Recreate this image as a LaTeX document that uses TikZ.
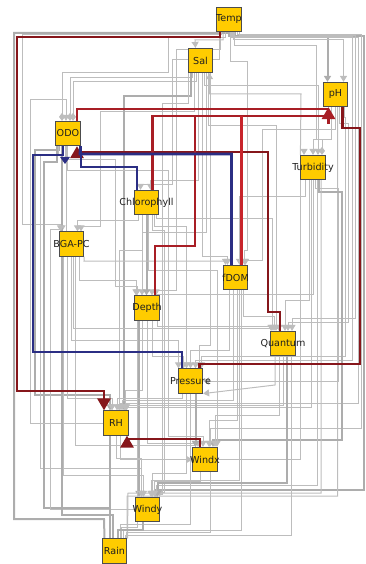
\documentclass[tikz,border=0pt]{standalone}
\usepackage{fontspec}
\setmainfont{DejaVu Sans}
\usetikzlibrary{arrows.meta}
\pgfdeclarelayer{edges}
\pgfsetlayers{edges,main}
\definecolor{nodey}{HTML}{FFCC00}
\definecolor{gl}{HTML}{BDBDBD}
\definecolor{gmid}{HTML}{ADADAD}
\definecolor{dred}{HTML}{86161B}
\definecolor{mred}{HTML}{A81E25}
\definecolor{bred}{HTML}{C8252C}
\definecolor{navy}{HTML}{2B2E84}
\begin{document}
\begin{tikzpicture}[x=1pt,y=-1pt,
  box/.style={draw=black!70, fill=nodey, line width=0.7pt, minimum width=24.5pt, minimum height=24.5pt, inner sep=0pt},
  lbl/.style={font=\fontsize{9.6}{11}\selectfont, text=black!88, inner sep=0pt},
  g/.style={draw=gl, line width=1pt},
  gm/.style={draw=gmid, line width=2pt},
  ta/.style={-{Triangle[width=7pt,length=6pt]}},
  da/.style={-{Diamond[width=6pt,length=8pt]}},
  ce/.style={line width=2.8pt},
  bigtip/.style={-{Triangle[width=13pt,length=12pt]}}
]
\useasboundingbox (0,0) rectangle (366,564);

% nodes
\node[box] (Temp) at (229,19.5) {};
\node[box] (Sal) at (200.5,60.5) {};
\node[box] (pH) at (335.5,94.5) {};
\node[box] (ODO) at (68,133.5) {};
\node[box] (Turbidity) at (313,167.5) {};
\node[box] (Chlorophyll) at (146.5,202.5) {};
\node[box] (BGA) at (71.5,244) {};
\node[box] (fDOM) at (235.5,277.5) {};
\node[box] (Depth) at (147,308) {};
\node[box] (Quantum) at (283,343.5) {};
\node[box] (Pressure) at (190.5,381) {};
\node[box] (RH) at (116,423) {};
\node[box] (Windx) at (205,459.5) {};
\node[box] (Windy) at (147.5,509.5) {};
\node[box] (Rain) at (114.5,551) {};
\node[lbl] (l1) at (Temp) {Temp};
\node[lbl] (l2) at (Sal) {Sal};
\node[lbl] (l3) at (pH) {pH};
\node[lbl] (l4) at (ODO) {ODO};
\node[lbl] (l5) at (Turbidity) {Turbidity};
\node[lbl] (l6) at (Chlorophyll) {Chlorophyll};
\node[lbl] (l7) at (BGA) {BGA-PC};
\node[lbl] (l8) at (fDOM) {fDOM};
\node[lbl] (l9) at (Depth) {Depth};
\node[lbl] (l10) at (Quantum) {Quantum};
\node[lbl] (l11) at (Pressure) {Pressure};
\node[lbl] (l12) at (RH) {RH};
\node[lbl] (l13) at (Windx) {Windx};
\node[lbl] (l14) at (Windy) {Windy};
\node[lbl] (l15) at (Rain) {Rain};
\coordinate (phin) at (328.5,124);

\begin{pgfonlayer}{edges}
% ---- Temp
\draw[g,ta] ([xshift=-6]Temp.south) -- (223,40) -- (195,40) -- ([xshift=-5]Sal.north);
\draw[gm] ([xshift=-2]Temp.south) -- (227,33) -- (14,33) -- (14,519) -- (104,519) -- ([xshift=-10]Rain.north);
\draw[gm,ta] (Temp.south) -- (229,36) -- (327.5,36) -- ([xshift=-8]pH.north);
\draw[g,ta] ([xshift=4]Temp.south) -- (233,40) -- (343.5,40) -- ([xshift=8]pH.north);
\draw[gm,ta] ([xshift=6]Temp.south) -- (235,36) -- (364,36) -- (364,490) -- (155.5,490) -- ([xshift=8]Windy.north);
\draw[g,ta] ([xshift=8]Temp.south) -- (237,35) -- (361,35) -- (361,428) -- (210,428) -- ([xshift=5]Windx.north);
\draw[g,da] ([xshift=-4]Temp.south) -- (225,38) -- (168,38) -- (168,73) -- (62,73) -- ([xshift=-6]ODO.north);
\draw[g,ta] ([xshift=-8]Temp.south) -- (221,35) -- (22,35) -- (22,224) -- (62,224) -- ([xshift=-9.5]BGA.north);
\draw[g,ta] ([xshift=2]Temp.south) -- (231,38) -- (358,38) -- (358,403) -- (120,403) -- ([xshift=4]RH.north);
\draw[g,ta] ([xshift=10]Temp.south) -- (239,36) -- (355,36) -- (355,318) -- (292,318) -- ([xshift=9]Quantum.north);
\draw[g,da] ([xshift=5]Temp.south) -- (234,46) -- (316,46) -- (316,140) -- (322,140) -- ([xshift=9]Turbidity.north);
\draw[g,ta] ([xshift=3]Temp.south) -- (232,37) -- (352,37) -- (352,360) -- (195.5,360) -- ([xshift=5]Pressure.north);
\draw[g,ta] ([xshift=-10]Temp.south) -- (219,60) -- (172,60) -- (172,184) -- (140.5,184) -- ([xshift=-6]Chlorophyll.north);
\draw[g,ta] ([xshift=1]Temp.south) -- (230,62) -- (247,62) -- (247,250) -- (244.5,250) -- ([xshift=9]fDOM.north);
\draw[g,ta] ([xshift=-9]Temp.south) -- (220,50) -- (176,50) -- (176,290) -- (152,290) -- ([xshift=5]Depth.north);
% ---- Sal
\draw[g,da] ([xshift=-8]Sal.south) -- (192.5,78) -- (70,78) -- ([xshift=2]ODO.north);
\draw[g,da] ([xshift=-4]Sal.south) -- (196.5,82) -- (73,82) -- ([xshift=5]ODO.north);
\draw[g,ta] ([xshift=4]Sal.south) -- (204.5,86) -- (318,86) -- ([xshift=5]Turbidity.north);
\draw[g,ta] ([xshift=-2]Sal.south) -- (198.5,180) -- (150.5,180) -- ([xshift=4]Chlorophyll.north);
\draw[g,ta] ([xshift=2]Sal.south) -- (202.5,256) -- (227.5,256) -- ([xshift=-8]fDOM.north);
\draw[g,ta] ([xshift=6]Sal.south) -- (206.5,232) -- (142,232) -- ([xshift=-5]Depth.north);
\draw[g,ta] ([xshift=-6]Sal.south) -- (194.5,112) -- (100,112) -- (100,226) -- (81,226) -- ([xshift=9.5]BGA.north);
\draw[g,ta] ([xshift=8]Sal.south) -- (208.5,126) -- (276,126) -- ([xshift=-7]Quantum.north);
\draw[g,ta] ([xshift=10]Sal.south) -- (210.5,345) -- (199.5,345) -- ([xshift=9]Pressure.north);
\draw[gm,ta] ([xshift=-10]Sal.south) -- (190.5,96) -- (124,96) -- ([xshift=8]RH.north);
\draw[g,ta] ([xshift=-12]Sal.south) -- (188.5,104) -- (162,104) -- (162,494) -- (159.5,494) -- ([xshift=12]Windy.north);
\draw[g,ta] (Turbidity.north west) -- (301,94) -- (209.5,94) -- ([xshift=9]Sal.south);
% ---- ODO
\draw[gm] ([xshift=-6]ODO.south) -- ([xshift=-9.5]BGA.north);
\draw[g] ([xshift=-2]ODO.south) -- ([xshift=-5.5]BGA.north);
\draw[g,ta] ([xshift=-3]ODO.south) -- (65,160) -- (115,160) -- (115,286) -- (137,286) -- ([xshift=-10]Depth.north);
\draw[gm,ta] ([xshift=-9]ODO.south) -- (59,150) -- (35,150) -- (35,395) -- (110,395) -- ([xshift=-6]RH.north);
\draw[g,ta] ([xshift=-10]ODO.south) -- (58,156) -- (40,156) -- (40,468) -- (141.5,468) -- ([xshift=-6]Windy.north);
\draw[gm] ([xshift=-11]ODO.south) -- (57,162) -- (44,162) -- (44,508) -- (109.5,508) -- ([xshift=-5]Rain.north);
\draw[g,ta] (RH.west) -- (30,423) -- (30,100) -- (66,100) -- ([xshift=-2]ODO.north);
\draw[g,ta] ([xshift=-1]ODO.south) -- (67,170) -- (168,170) -- (168,436) -- (203,436) -- ([xshift=-2]Windx.north);
\draw[g,ta] (Windy.west) -- (50,509.5) -- (50,229) -- (60.5,229) -- ([xshift=-11]BGA.north);
% ---- pH
\draw[g,ta] ([xshift=4]pH.south) -- (339.5,124) -- (348,124) -- (348,322) -- (288,322) -- ([xshift=5]Quantum.north);
\draw[g,ta] ([xshift=9]pH.south) -- (344.5,118) -- (345,118) -- (345,356) -- (201.5,356) -- ([xshift=11]Pressure.north);
\draw[g,ta] ([xshift=-4]pH.south) -- (331.5,140) -- (313,140) -- (Turbidity.north);
\draw[g,ta] (pH.south) -- (335.5,130) -- (262,130) -- (262,260) -- (245.5,260) -- ([xshift=10]fDOM.north);
\draw[g] ([xshift=2]pH.south) -- (337.5,496) -- (127,496) -- (Rain.north east);
% ---- Turbidity
\draw[g,ta] ([xshift=-4]Turbidity.south) -- (309,300) -- (285,300) -- ([xshift=2]Quantum.north);
\draw[g,ta] ([xshift=-8]Turbidity.south) -- (305,196) -- (239.5,196) -- ([xshift=4]fDOM.north);
\draw[g,ta] ([xshift=2]Turbidity.south) -- (315,188) -- (338,188) -- (338,381) -- (Pressure.east);
\draw[gm,ta] ([xshift=6]Turbidity.south) -- (319,192) -- (342,192) -- (342,440) -- (213,440) -- ([xshift=8]Windx.north);
\draw[g,ta] (Turbidity.south) -- (313,294) -- (156,294) -- ([xshift=9]Depth.north);
\draw[g,ta] ([xshift=-2]Turbidity.south) -- (311,407) -- (126,407) -- ([xshift=10]RH.north);
\draw[g,ta] ([xshift=4]Turbidity.south) -- (317,485) -- (156.5,485) -- ([xshift=9]Windy.north);
\draw[g] ([xshift=8]Turbidity.south) -- (321,493) -- (128,493) -- ([xshift=13]Rain.north);
\draw[g,ta] (Windx.east) -- (300,459.5) -- (300,150) -- (304,150) -- ([xshift=-9]Turbidity.north);
% ---- Chlorophyll
\draw[g,ta] ([xshift=-8]Chlorophyll.south) -- (138.5,220) -- (77.5,220) -- ([xshift=6]BGA.north);
\draw[gm,ta] (Chlorophyll.south) -- ([xshift=-0.5]Depth.north);
\draw[g,ta] ([xshift=8]Chlorophyll.south) -- (154.5,226) -- (186.5,226) -- ([xshift=-4]Pressure.north);
\draw[g,ta] ([xshift=10]Chlorophyll.south) -- (156.5,218) -- (272,218) -- ([xshift=-11]Quantum.north);
\draw[g,ta] ([xshift=-4]Chlorophyll.south) -- (142.5,250) -- (119,250) -- ([xshift=3]RH.north);
\draw[g,ta] ([xshift=6]Chlorophyll.south) -- (152.5,230) -- (164,230) -- (164,492) -- (152,492) -- ([xshift=4.5]Windy.north);
\draw[g,ta] ([xshift=2]Chlorophyll.south) -- (148.5,270) -- (217,270) -- ([xshift=12]Windx.north);
% ---- BGA-PC
\draw[g,ta] (BGA.south east) -- (84,261) -- (225.5,261) -- ([xshift=-10]fDOM.north);
\draw[g,ta] ([xshift=8]BGA.south) -- (79.5,280) -- (136,280) -- ([xshift=-11]Depth.north);
\draw[g,ta] ([xshift=-4]BGA.south) -- (67.5,398) -- (112,398) -- ([xshift=-4]RH.north);
\draw[g,ta] (BGA.south) -- (71.5,340) -- (178.5,340) -- ([xshift=-12]Pressure.north);
\draw[g,ta] ([xshift=-8]BGA.south) -- (63.5,475) -- (143.5,475) -- ([xshift=-4]Windy.north);
\draw[gm] ([xshift=-10]BGA.south) -- (61.5,515) -- (112.5,515) -- ([xshift=-2]Rain.north);
\draw[g,ta] ([xshift=4]BGA.south) -- (75.5,445) -- (195.5,445) -- ([xshift=-9.5]Windx.north);
\draw[g,ta] ([xshift=2]BGA.south) -- (73.5,328) -- (279,328) -- ([xshift=-4]Quantum.north);
% ---- fDOM
\draw[g,ta] ([xshift=8]fDOM.south) -- (243.5,316) -- (274,316) -- ([xshift=-9]Quantum.north);
\draw[g,ta] ([xshift=-6]fDOM.south) -- (229.5,350) -- (190.5,350) -- (Pressure.north);
\draw[g,ta] ([xshift=2]fDOM.south) -- (237.5,420) -- (209,420) -- ([xshift=4]Windx.north);
\draw[g,ta] ([xshift=-2]fDOM.south) -- (233.5,400) -- (122,400) -- ([xshift=6]RH.north);
\draw[g,ta] ([xshift=4]fDOM.south) -- (239.5,480) -- (151,480) -- ([xshift=3.5]Windy.north);
\draw[g] ([xshift=6]fDOM.south) -- (241.5,530) -- (123.5,530) -- ([xshift=9]Rain.north);
% ---- Depth
\draw[g,ta] ([xshift=5]Depth.south) -- (152,356) -- (183.5,356) -- ([xshift=-7]Pressure.north);
\draw[g,ta] ([xshift=10]Depth.south) -- (157,326) -- (271,326) -- ([xshift=-12]Quantum.north);
\draw[g,ta] ([xshift=-5]Depth.south) -- (142,390) -- (125,390) -- ([xshift=9]RH.north);
\draw[g,ta] (Depth.south) -- (147,443) -- (198,443) -- ([xshift=-7]Windx.north);
\draw[gm,ta] ([xshift=-8]Depth.south) -- ([xshift=-8.5]Windy.north);
\draw[g] ([xshift=-10]Depth.south) -- (137,527) -- (121.5,527) -- ([xshift=7]Rain.north);
% ---- Quantum
\draw[g,ta] ([xshift=-8]Quantum.south) -- (275,385) -- (Pressure.south east);
\draw[g,ta] ([xshift=-4]Quantum.south) -- (279,415) -- (215,415) -- ([xshift=10]Windx.north);
\draw[g,ta] (Quantum.south) -- (283,405) -- (126.5,405) -- ([xshift=10.5]RH.north);
\draw[gm,ta] ([xshift=4]Quantum.south) -- (287,483) -- (157.5,483) -- ([xshift=10]Windy.north);
\draw[g] ([xshift=8]Quantum.south) -- (291,535) -- (125.5,535) -- ([xshift=11]Rain.north);
% ---- Pressure
\draw[g,ta] ([xshift=-8]Pressure.south) -- (182.5,398) -- (117,398) -- ([xshift=1]RH.north);
\draw[gm,ta] ([xshift=5]Pressure.south) -- ([xshift=-9.5]Windx.north);
\draw[g,ta] ([xshift=-4]Pressure.south) -- (186.5,473) -- (152.5,473) -- ([xshift=5]Windy.north);
\draw[g] (Pressure.south) -- (190.5,524) -- (120.5,524) -- ([xshift=6]Rain.north);
% ---- RH, Windx, Windy
\draw[g,ta] (RH.south) -- (116,458) -- (141.5,458) -- ([xshift=-6]Windy.north);
\draw[gm] ([xshift=-6]RH.south) -- ([xshift=-4.5]Rain.north);
\draw[g,ta] ([xshift=4]RH.south) -- (120,459.5) -- (Windx.west);
\draw[g,ta] ([xshift=-5]Windx.south) -- (200,481) -- (154.5,481) -- ([xshift=7]Windy.north);
\draw[g] ([xshift=5]Windx.south) -- (210,532) -- (126.5,532) -- ([xshift=12]Rain.north);
\draw[gm] ([xshift=-5]Windy.south) -- (142.5,530) -- (117.5,530) -- ([xshift=3]Rain.north);

% ---- coloured edges
\draw[dred,ce,bigtip] ([xshift=-9]Temp.south) -- (220,37) -- (17,37) -- (17,391) -- (104,391) -- ([xshift=-12]RH.north);
\draw[dred,ce,bigtip] ([xshift=-5]Windx.north) -- (200,439) -- (127,439) -- ([xshift=11]RH.south);
\draw[dred,ce,bigtip] ([xshift=-3]Quantum.north) -- (280,312) -- (268,312) -- (268,152) -- (77,152) -- ([xshift=9]ODO.south);
\draw[dred,ce] ([xshift=9]Pressure.north) -- (199.5,364) -- (360,364) -- (360,128) -- (342.5,128) -- ([xshift=7]pH.south);
\draw[mred,ce] ([xshift=9]ODO.north) -- (77,109) -- (328.5,109);
\draw[mred,ce] ([xshift=6]Chlorophyll.north) -- (152.5,116) -- (328.5,116);
\draw[mred,ce] ([xshift=8]Depth.north) -- (155,246) -- (195,246) -- (195,116);
\draw[bred,ce] ([xshift=6]fDOM.north) -- (241.5,116);
\draw[mred,ce,bigtip] (phin) -- ([xshift=-7]pH.south);
\draw[navy,ce] ([xshift=-5]ODO.south) -- (63,155) -- (33,155) -- (33,352) -- (182,352) -- ([xshift=-8.5]Pressure.north);
\draw[navy,ce] (ODO.south east) -- (80,154) -- (231.5,154) -- ([xshift=-4]fDOM.north);
\draw[navy,ce] ([xshift=13]ODO.south) -- (81,167) -- (137,167) -- ([xshift=-9.5]Chlorophyll.north);
\fill[navy] (60,157) -- (70,157) -- (65,164) -- cycle;
\end{pgfonlayer}
\end{tikzpicture}
\end{document}
